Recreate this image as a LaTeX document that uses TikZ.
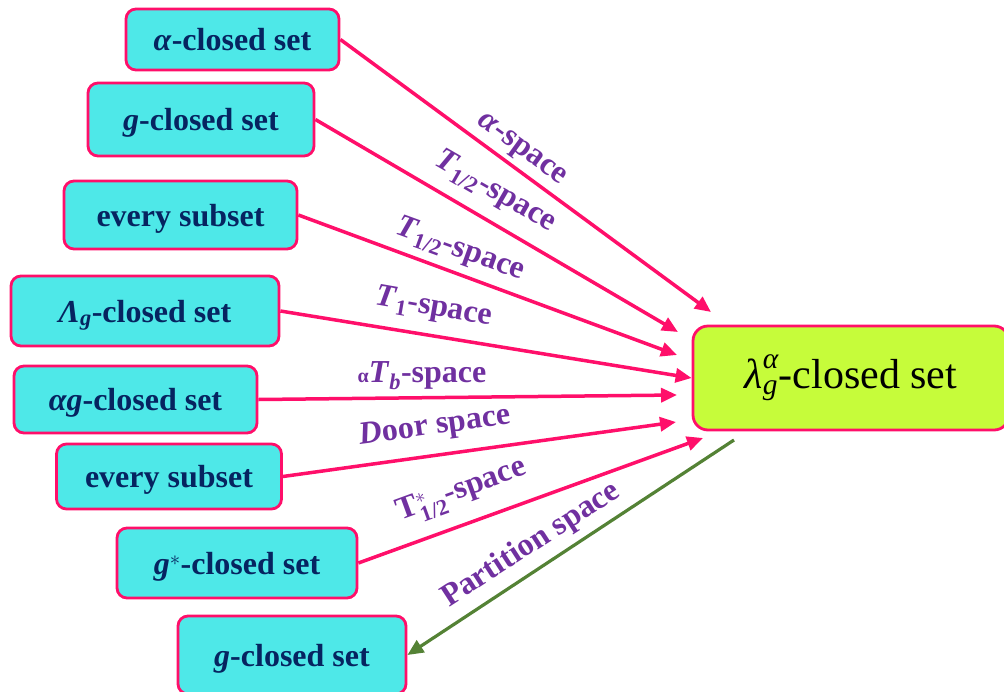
\documentclass[tikz,border=0pt]{standalone}
\usepackage{amsmath}
\usepackage{fontspec}
\setmainfont{Liberation Serif}
\usetikzlibrary{arrows.meta}
\definecolor{boxfill}{HTML}{4EE8E8}
\definecolor{pinkc}{HTML}{FF0F6A}
\definecolor{navyc}{HTML}{062460}
\definecolor{purpc}{HTML}{7030A0}
\definecolor{limec}{HTML}{C6FC3A}
\definecolor{greenc}{HTML}{548235}
\begin{document}
\begin{tikzpicture}[x=1pt,y=-1pt,
  setbox/.style={draw=pinkc, line width=2.8pt, fill=boxfill, rounded corners=10pt, inner sep=0pt, text depth=0pt, text=navyc, font=\fontsize{32}{36}\selectfont\bfseries},
  mainbox/.style={draw=pinkc, line width=2.8pt, fill=limec, rounded corners=15pt, inner sep=0pt, text=black, font=\fontsize{42}{46}\selectfont},
  lbl/.style={text=purpc, font=\fontsize{32}{36}\selectfont\bfseries, inner sep=0pt},
  arr/.style={draw=pinkc, line width=3.5pt, -{Triangle[length=16pt,width=14pt]}},
  garr/.style={draw=greenc, line width=3.2pt, -{Triangle[length=16pt,width=14pt]}},
]
\useasboundingbox (0,0) rectangle (1004,691);
\clip (0,0) rectangle (1004,691);

\node[setbox, minimum width=213pt, minimum height=61pt] (b1) at (232.5,39.5) {\textit{α}-closed set};
\node[setbox, minimum width=226pt, minimum height=73pt] (b2) at (201,119.5) {\textit{g}-closed set};
\node[setbox, minimum width=233pt, minimum height=68pt] (b3) at (180.5,215) {every subset};
\node[setbox, minimum width=268pt, minimum height=70pt] (b4) at (145,311) {\textit{Λ}\textsubscript{\textit{g}}-closed set};
\node[setbox, minimum width=243pt, minimum height=67pt] (b5) at (135.5,399.5) {\textit{αg}-closed set};
\node[setbox, minimum width=225pt, minimum height=65pt] (b6) at (169,476.5) {every subset};
\node[setbox, minimum width=240pt, minimum height=70pt] (b7) at (237,563) {\textit{g}$^{*}$-closed set};
\node[setbox, minimum width=228pt, minimum height=78pt] (b8) at (292,655) {\textit{g}-closed set};

\node[mainbox, minimum width=316pt, minimum height=104pt] (m) at (851,378) {$\textit{λ}^{\textit{α}}_{\textit{g}}$-closed set};

\coordinate (t1) at (711,312);
\coordinate (t2) at (678,332);
\coordinate (t3) at (677,355);
\coordinate (t5) at (677,395);
\coordinate (t6) at (676,422);
\coordinate (t7) at (703,438);
\coordinate (g0) at (734,440);

\draw[arr] (b1.east) -- (t1);
\draw[arr] (b2.east) -- (t2);
\draw[arr] (b3.east) -- (t3);
\draw[arr] (b4.east) -- (m.west);
\draw[arr] (b5.east) -- (t5);
\draw[arr] (b6.east) -- (t6);
\draw[arr] (b7.east) -- (t7);
\draw[garr] (g0) -- (b8.east);

\node[lbl, rotate=-36] (l1) at (521,151) {\textit{α}-space};
\node[lbl, rotate=-30] (l2) at (495,192) {\textit{T}\textsubscript{1/2}-space};
\node[lbl, rotate=-20] (l3) at (460,250) {\textit{T}\textsubscript{1/2}-space};
\node[lbl, rotate=-10] (l4) at (434,308) {\textit{T}\textsubscript{1}-space};
\node[lbl] (l5) at (422,376) {{\fontsize{20}{20}\selectfont α}\textit{T}\textsubscript{\textit{b}}-space};
\node[lbl, rotate=8] (l6) at (435,427) {\textit{D}oor space};
\node[lbl, rotate=20] (l7) at (462,492) {T$^{*}_{\text{1/2}}$-space};
\node[lbl, rotate=33] (l8) at (531,545) {Partition space};
\end{tikzpicture}
\end{document}
